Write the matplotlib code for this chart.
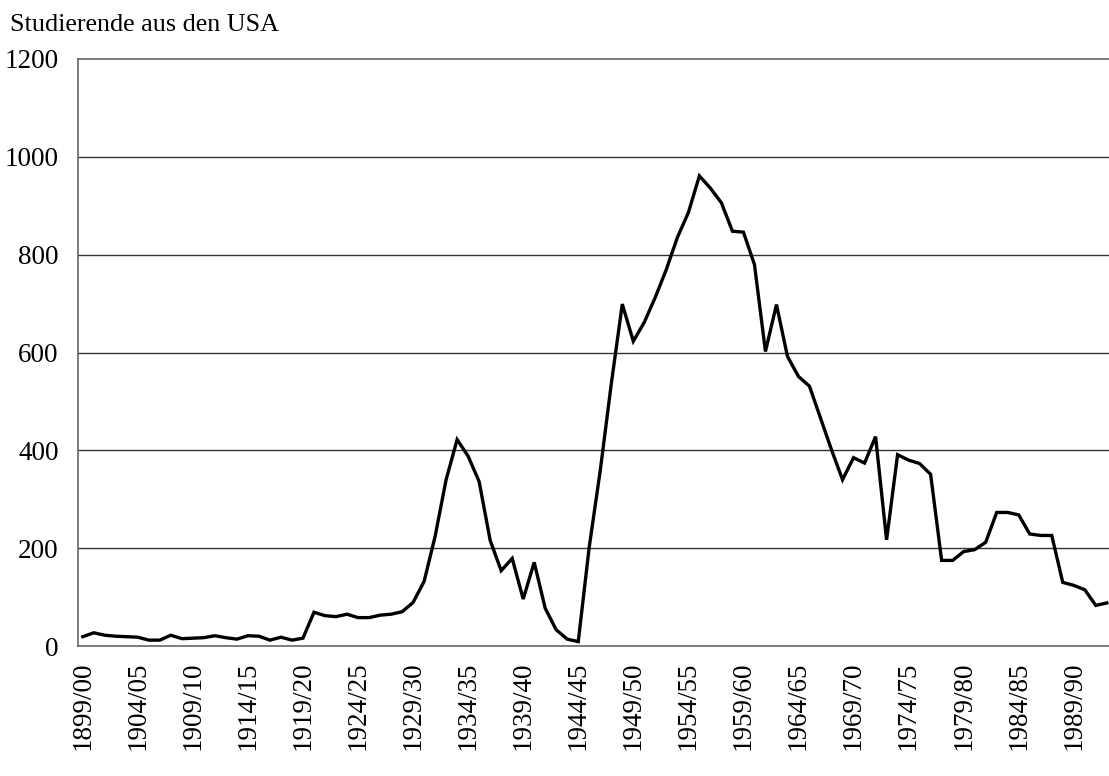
import matplotlib
matplotlib.use("Agg")
import matplotlib.pyplot as plt

# Academic years starting 1899/00 (index 0) through 1992/93
start_year = 1899
students = [
    19, 27, 22, 20, 19, 18, 12, 12, 22, 15,
    16, 17, 21, 17, 14, 21, 20, 12, 18, 12,
    16, 69, 62, 60, 65, 58, 58, 63, 65, 70,
    89, 132, 224, 340, 422, 388, 336, 216, 154, 179,
    96, 171, 77, 33, 14, 9, 203, 359, 536, 699,
    623, 662, 713, 770, 835, 886, 961, 936, 906, 848,
    846, 780, 602, 698, 592, 551, 531, 466, 401, 340,
    385, 374, 428, 217, 391, 380, 373, 351, 175, 175,
    193, 197, 212, 273, 273, 268, 229, 226, 226, 130,
    124, 115, 83, 88,
]
tick_labels = ["1899/00", "1904/05", "1909/10", "1914/15", "1919/20",
               "1924/25", "1929/30", "1934/35", "1939/40", "1944/45",
               "1949/50", "1954/55", "1959/60", "1964/65", "1969/70",
               "1974/75", "1979/80", "1984/85", "1989/90"]
y_ticks = [0, 200, 400, 600, 800, 1000, 1200]
title = "Studierende aus den USA"

plt.rcParams['font.family'] = ['Liberation Serif', 'DejaVu Serif']

fig = plt.figure(figsize=(11.09, 7.76), dpi=100)
ax = fig.add_axes([78/1109, (776-646)/776, 1 - 78/1109 + 0.001, (646-59)/776])

x = list(range(len(students)))
ax.plot(x, students, color='black', lw=2.4, solid_joinstyle='miter', zorder=3)

ax.set_xlim(-0.43, 93.3)
ax.set_ylim(0, 1200)
ax.set_yticks(y_ticks)
ax.set_yticklabels([str(v) for v in y_ticks], fontsize=19.5)
ax.set_xticks(list(range(0, len(tick_labels) * 5, 5)))
ax.set_xticklabels(tick_labels, rotation=90, fontsize=19.5)
ax.tick_params(axis='both', length=0)
ax.tick_params(axis='y', pad=14)
ax.tick_params(axis='x', pad=11)

for v in y_ticks[1:-1]:
    ax.axhline(v, color='#333333', lw=1.0, zorder=1)

for s in ['left', 'top', 'bottom']:
    ax.spines[s].set_linestyle((0, (1, 1)))
    ax.spines[s].set_color('#666666')
    ax.spines[s].set_linewidth(1.2)
ax.spines['right'].set_visible(False)

fig.text(10/1109, 1 - 31/776, title, fontsize=18.8, ha='left', va='baseline')

fig.savefig("out.png", dpi=100)
